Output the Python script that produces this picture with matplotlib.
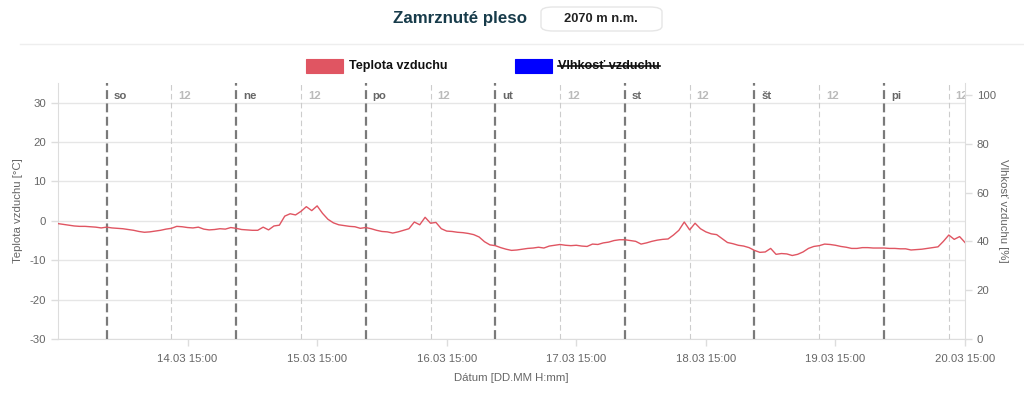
import matplotlib
matplotlib.use("Agg")
import matplotlib.pyplot as plt
import matplotlib.dates as mdates
from matplotlib.patches import FancyBboxPatch, Rectangle
from matplotlib.lines import Line2D
import pandas as pd

plt.rcParams['font.family'] = ['Liberation Sans', 'DejaVu Sans']
plt.rcParams['axes.unicode_minus'] = False

# ---- data ----
title = "Zamrznuté pleso"
altitude = "2070 m n.m."
series_names = ["Teplota vzduchu", "Vlhkosť vzduchu"]
start_time = "2020-03-13 15:00"
end_time = "2020-03-20 15:00"
temperature = [
    -0.7, -0.9, -1.1, -1.3, -1.4, -1.4, -1.5, -1.6, -1.8, -1.6,
    -1.8, -1.9, -2.0, -2.2, -2.4, -2.7, -2.9, -2.8, -2.6, -2.4,
    -2.1, -1.9, -1.4, -1.5, -1.7, -1.8, -1.6, -2.1, -2.3, -2.2,
    -2.0, -2.1, -1.7, -1.9, -2.2, -2.3, -2.4, -2.4, -1.6, -2.3,
    -1.3, -1.1, 1.2, 1.8, 1.5, 2.4, 3.6, 2.6, 3.8, 1.9,
    0.4, -0.5, -1.0, -1.2, -1.4, -1.5, -1.9, -1.7, -2.0, -2.4,
    -2.7, -2.8, -3.1, -2.8, -2.4, -2.0, -0.3, -1.0, 0.9, -0.6,
    -0.4, -2.0, -2.6, -2.7, -2.9, -3.0, -3.2, -3.5, -4.1, -5.3,
    -6.1, -6.3, -6.8, -7.2, -7.5, -7.4, -7.2, -7.0, -6.9, -6.7,
    -6.9, -6.4, -6.2, -6.0, -6.2, -6.3, -6.2, -6.4, -6.5, -5.9,
    -6.0, -5.6, -5.4, -5.0, -4.8, -4.8, -5.0, -5.2, -5.9, -5.6,
    -5.2, -4.9, -4.7, -4.6, -3.6, -2.4, -0.3, -2.3, -0.6, -2.0,
    -2.8, -3.3, -3.5, -4.5, -5.5, -5.8, -6.2, -6.4, -6.8, -7.5,
    -8.0, -7.9, -7.0, -8.5, -8.3, -8.4, -8.8, -8.5, -7.9, -7.0,
    -6.5, -6.3, -5.9, -6.0, -6.2, -6.5, -6.7, -7.0, -7.0, -6.8,
    -6.8, -6.9, -6.9, -6.9, -7.0, -7.0, -7.1, -7.1, -7.4, -7.3,
    -7.2, -7.0, -6.8, -6.6, -5.2, -3.6, -4.7, -4.0, -5.5,
]
day_labels = ["so", "ne", "po", "ut", "st", "št", "pi"]
day_starts = ["2020-03-14", "2020-03-15", "2020-03-16", "2020-03-17",
              "2020-03-18", "2020-03-19", "2020-03-20"]
noon_label = "12"
x_tick_times = ["2020-03-14 15:00", "2020-03-15 15:00", "2020-03-16 15:00",
                "2020-03-17 15:00", "2020-03-18 15:00", "2020-03-19 15:00",
                "2020-03-20 15:00"]
y_left_ticks = [-30, -20, -10, 0, 10, 20, 30]
y_right_ticks = [0, 20, 40, 60, 80, 100]
x_label = "Dátum [DD.MM H:mm]"
y_left_label = "Teplota vzduchu [°C]"
y_right_label = "Vlhkosť vzduchu [%]"

# ---- figure ----
W, H = 1024, 394
fig = plt.figure(figsize=(W / 100, H / 100), dpi=100)
fig.patch.set_facecolor("white")

def fx(px):
    return px / W

def fy(py):
    return 1 - py / H

ax = fig.add_axes([fx(58), fy(339), fx(965) - fx(58), fy(83) - fy(339)])
times = pd.date_range(start_time, periods=len(temperature), freq="h")
red = "#e05562"
ax.plot(times, temperature, color=red, lw=1.0, zorder=5)

ax.set_xlim(pd.Timestamp(start_time), pd.Timestamp(end_time))
ax.set_ylim(-30, 35)
ax.set_yticks(y_left_ticks)
ax.set_xticks([pd.Timestamp(t) for t in x_tick_times])
ax.xaxis.set_major_formatter(mdates.DateFormatter("%d.%m %H:%M"))

grid_c = "#e6e6e6"
ax.grid(axis="y", color=grid_c, lw=1)
ax.set_axisbelow(True)
for s in ["top", "right"]:
    ax.spines[s].set_visible(False)
for s in ["left", "bottom"]:
    ax.spines[s].set_color("#dddddd")
ax.tick_params(axis="both", colors="#dddddd", labelcolor="#666666",
               labelsize=8.2, length=5, width=1)
ax.tick_params(axis="x", pad=6)

ax2 = ax.twinx()
ax2.set_ylim(0, 105)
ax2.set_yticks(y_right_ticks)
for s in ["top", "left", "bottom"]:
    ax2.spines[s].set_visible(False)
ax2.spines["right"].set_color("#dddddd")
ax2.tick_params(axis="y", colors="#dddddd", labelcolor="#666666",
                labelsize=8.2, length=5, width=1)

# day / noon separators
for lbl, d in zip(day_labels, day_starts):
    t0 = pd.Timestamp(d)
    t12 = t0 + pd.Timedelta(hours=12)
    ax.axvline(t0, color="#7a7a7a", lw=1.6, ls=(0, (4, 2)), zorder=4)
    ax.axvline(t12, color="#cccccc", lw=0.8, ls=(0, (5, 3)), zorder=4)
    ax.annotate(lbl, xy=(mdates.date2num(t0), 1), xycoords=("data", "axes fraction"),
                xytext=(5, -9.5), textcoords="offset points", fontsize=8.2,
                fontweight="bold", color="#666666", va="center", ha="left",
                annotation_clip=False)
    ax.annotate(noon_label, xy=(mdates.date2num(t12), 1),
                xycoords=("data", "axes fraction"),
                xytext=(5, -9.5), textcoords="offset points", fontsize=8.2,
                fontweight="bold", color="#bbbbbb", va="center", ha="left",
                clip_on=True)

ax.set_xlabel(x_label, color="#666666", fontsize=8.2, labelpad=6)
ax.set_ylabel(y_left_label, color="#666666", fontsize=8.2, labelpad=5)
ax2.set_ylabel(y_right_label, color="#666666", fontsize=8.2, rotation=-90,
               labelpad=9)

# header
fig.text(fx(527), fy(19), title, fontsize=12.2, fontweight="bold",
         color="#173b4a", ha="right", va="center")
box = FancyBboxPatch((fx(541), fy(31)), fx(121), fy(7) - fy(31),
                     boxstyle="round,pad=0,rounding_size=0.012",
                     transform=fig.transFigure, facecolor="white",
                     edgecolor="#e6e6e6", lw=1)
fig.add_artist(box)
fig.text(fx(601), fy(19), altitude, fontsize=9.3, fontweight="bold",
         color="#222222", ha="center", va="center")
fig.add_artist(Line2D([fx(20), 1], [fy(44), fy(44)], transform=fig.transFigure,
                      color="#eeeeee", lw=1))

# legend
leg_items = [(306, red, series_names[0], False), (515, "#0000ff", series_names[1], True)]
fig.canvas.draw()
renderer = fig.canvas.get_renderer()
for x0, col, name, struck in leg_items:
    fig.add_artist(Rectangle((fx(x0), fy(73)), fx(37), fy(59) - fy(73),
                             transform=fig.transFigure, facecolor=col,
                             edgecolor=col, lw=0.8))
    t = fig.text(fx(x0 + 43), fy(66), name, fontsize=9.1, color="#111111",
                 ha="left", va="center", fontweight="bold")
    if struck:
        bb = t.get_window_extent(renderer)
        fig.add_artist(Line2D([bb.x0 / W, bb.x1 / W], [fy(66), fy(66)],
                              transform=fig.transFigure, color="#111111", lw=1.2))

fig.savefig("out.png", dpi=100, facecolor="white")
